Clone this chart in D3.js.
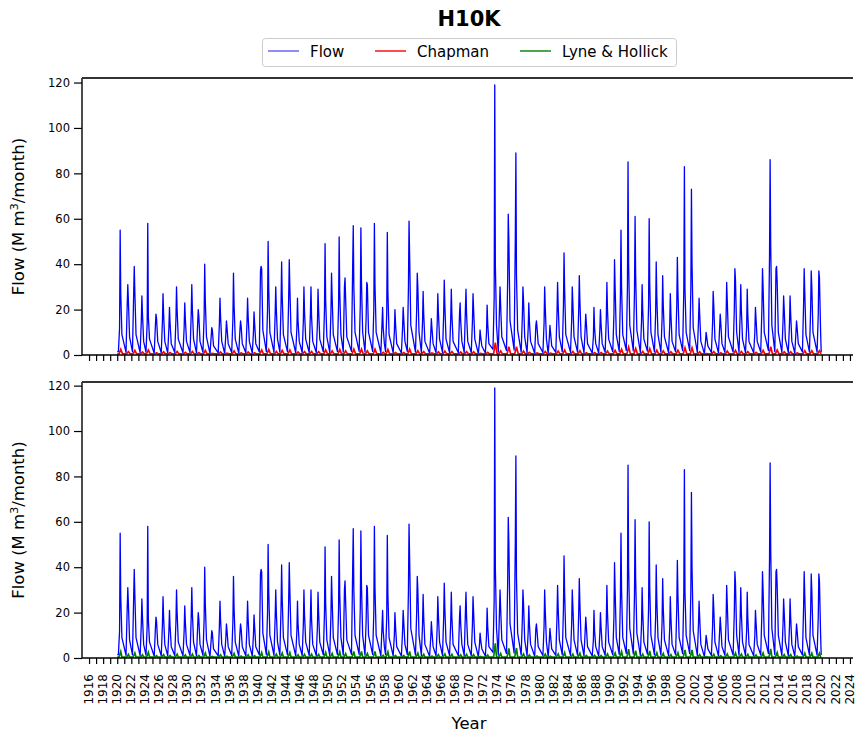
<!DOCTYPE html>
<html>
<head>
<meta charset="utf-8">
<script src="https://cdn.jsdelivr.net/npm/d3@7"></script>
<style>
  body { margin: 0; background: #fff; }
  svg { font-family: "DejaVu Sans", sans-serif; }
</style>
</head>
<body>
<svg id="chart"></svg>
<script>
var width = 855,
    height = 737;

// one entry per year
var years = d3.range(1920, 2020);

var peakMonth = [5, 6, 5, 6, 4, 6, 6, 5, 5, 7,
                 7, 6, 5, 5, 7, 6, 6, 6, 6, 5,
                 5, 5, 6, 4, 5, 7, 6, 6, 6, 6,
                 5, 6, 4, 6, 7, 5, 6, 8, 4, 5,
                 7, 5, 7, 5, 7, 6, 5, 5, 8, 6,
                 6, 6, 6, 7, 4, 6, 7, 7, 5, 6,
                 8, 5, 6, 5, 7, 7, 6, 8, 7, 6,
                 7, 6, 6, 6, 6, 6, 6, 5, 6, 6,
                 6, 6, 7, 7, 7, 7, 6, 8, 6, 5,
                 7, 7, 8, 7, 7, 6, 5, 6, 6, 7];

var peakFlow = [55, 31, 39, 26, 58, 18, 27, 21, 30, 23,
                31, 20, 40, 12, 25, 15, 36, 15, 25, 19,
                39, 50, 30, 41, 42, 25, 30, 30, 29, 49,
                36, 52, 34, 57, 56, 32, 58, 21, 54, 20,
                21, 59, 36, 28, 16, 27, 33, 29, 23, 29,
                27, 11, 22, 119, 30, 62, 89, 30, 23, 15,
                30, 13, 32, 45, 30, 35, 18, 21, 20, 32,
                42, 55, 85, 61, 31, 60, 41, 35, 27, 43,
                83, 73, 25, 10, 28, 18, 32, 38, 31, 29,
                21, 38, 86, 39, 26, 26, 15, 38, 37, 37];

var riseFlow = [12, 22, 27, 15, 14, 13, 15, 12, 16, 12,
                18, 14, 17, 8, 14, 9, 16, 11, 14, 10,
                37, 20, 18, 22, 25, 12, 15, 18, 14, 20,
                19, 22, 30, 39, 22, 17, 20, 14, 18, 10,
                12, 30, 20, 15, 9, 14, 18, 16, 18, 20,
                15, 6, 10, 25, 20, 33, 51, 17, 12, 13,
                14, 8, 18, 22, 15, 20, 12, 8, 11, 16,
                18, 26, 30, 28, 15, 22, 18, 16, 13, 22,
                29, 30, 15, 6, 14, 12, 16, 20, 18, 12,
                10, 20, 44, 38, 15, 14, 10, 22, 20, 18];

var shoulderFlow = [27, 24, 28, 18, 17, 16, 18, 14, 20, 16,
                    20, 17, 24, 11, 17, 12, 22, 13, 17, 14,
                    38, 30, 20, 26, 30, 15, 19, 17, 20, 24,
                    26, 28, 25, 30, 32, 31, 31, 12, 28, 14,
                    16, 44, 30, 18, 12, 19, 22, 18, 15, 18,
                    20, 8, 14, 40, 22, 51, 35, 24, 15, 12,
                    21, 10, 22, 29, 23, 24, 14, 12, 14, 20,
                    30, 30, 40, 35, 20, 31, 26, 22, 18, 28,
                    29, 40, 18, 8, 22, 14, 24, 33, 20, 18,
                    16, 30, 48, 32, 20, 18, 12, 28, 30, 34];

var recessFlow = [9, 8, 9, 6, 7, 6, 6, 5, 7, 6,
                  7, 6, 8, 4, 6, 5, 7, 5, 6, 5,
                  11, 10, 7, 9, 10, 6, 7, 6, 7, 8,
                  9, 9, 8, 10, 10, 10, 10, 5, 9, 5,
                  6, 13, 10, 6, 5, 7, 7, 6, 6, 6,
                  7, 4, 5, 13, 8, 15, 11, 8, 6, 5,
                  7, 4, 8, 9, 8, 8, 5, 5, 5, 7,
                  9, 9, 13, 11, 7, 10, 9, 8, 6, 9,
                  10, 12, 6, 4, 7, 5, 8, 10, 7, 6,
                  6, 10, 13, 10, 7, 6, 5, 9, 10, 10];

var lowFlow = [1.5, 1.2, 1.4, 1.0, 1.3, 0.8, 1.0, 0.9, 1.1, 1.0,
               1.1, 0.9, 1.2, 0.6, 0.9, 0.7, 1.1, 0.8, 1.0, 0.8,
               1.3, 1.5, 1.2, 1.3, 1.4, 1.0, 1.1, 1.1, 1.1, 1.4,
               1.2, 1.5, 1.3, 1.6, 1.6, 1.3, 1.6, 1.0, 1.5, 0.9,
               0.9, 1.6, 1.3, 1.1, 0.8, 1.0, 1.2, 1.1, 1.0, 1.1,
               1.1, 0.6, 0.9, 2.5, 1.3, 2.0, 2.2, 1.3, 1.0, 0.8,
               1.1, 0.7, 1.2, 1.4, 1.2, 1.3, 0.9, 0.9, 0.9, 1.2,
               1.4, 1.6, 2.0, 1.8, 1.2, 1.7, 1.4, 1.3, 1.1, 1.4,
               1.9, 1.9, 1.1, 0.6, 1.1, 0.9, 1.2, 1.3, 1.2, 1.1,
               1.0, 1.3, 2.0, 1.5, 1.1, 1.1, 0.8, 1.3, 1.3, 1.3];

var chapmanPeak = [2.5, 1.5, 2.0, 1.3, 2.2, 1.0, 1.4, 1.1, 1.6, 1.2,
                   1.6, 1.1, 2.0, 0.7, 1.3, 0.8, 1.8, 0.9, 1.3, 1.0,
                   2.2, 2.4, 1.6, 2.0, 2.2, 1.3, 1.5, 1.6, 1.5, 2.3,
                   1.8, 2.4, 1.8, 2.6, 2.6, 1.8, 2.6, 1.2, 2.4, 1.1,
                   1.1, 2.6, 1.9, 1.5, 0.9, 1.4, 1.7, 1.5, 1.3, 1.5,
                   1.4, 0.7, 1.2, 5.5, 1.8, 3.6, 3.6, 1.7, 1.2, 0.9,
                   1.6, 0.8, 1.7, 2.2, 1.6, 1.9, 1.0, 1.1, 1.1, 1.7,
                   2.0, 2.5, 3.5, 2.9, 1.6, 2.8, 2.1, 1.8, 1.4, 2.1,
                   3.2, 3.2, 1.4, 0.6, 1.5, 1.0, 1.7, 2.0, 1.6, 1.5,
                   1.2, 2.0, 3.6, 2.2, 1.4, 1.4, 0.9, 1.9, 1.9, 1.9];

var lyneHollickPeak = [2.8, 1.6, 2.2, 1.4, 2.5, 1.0, 1.5, 1.1, 1.7, 1.3,
                       1.7, 1.1, 2.2, 0.7, 1.4, 0.8, 2.0, 0.9, 1.4, 1.0,
                       2.4, 2.7, 1.7, 2.2, 2.4, 1.4, 1.6, 1.7, 1.6, 2.5,
                       2.0, 2.7, 1.9, 2.9, 2.9, 2.0, 2.9, 1.2, 2.7, 1.1,
                       1.1, 2.9, 2.1, 1.6, 0.9, 1.5, 1.8, 1.6, 1.4, 1.6,
                       1.5, 0.7, 1.3, 6.5, 2.0, 4.2, 4.4, 1.8, 1.3, 0.9,
                       1.7, 0.8, 1.8, 2.4, 1.7, 2.1, 1.1, 1.2, 1.1, 1.8,
                       2.2, 2.8, 3.9, 3.2, 1.7, 3.1, 2.3, 2.0, 1.5, 2.3,
                       3.6, 3.6, 1.5, 0.6, 1.6, 1.0, 1.8, 2.2, 1.7, 1.6,
                       1.3, 2.2, 4.0, 2.4, 1.5, 1.5, 0.9, 2.1, 2.1, 2.1];

var chapmanTrough = 0.5,
    lyneHollickTrough = 0.4;

var yTicks = [0, 20, 40, 60, 80, 100, 120],
    xTicks = d3.range(1916, 2025);

var legendItems = [{name: "Flow", color: "blue"},
                   {name: "Chapman", color: "red"},
                   {name: "Lyne & Hollick", color: "green"}];

var svg = d3.select("#chart")
    .attr("width", width)
    .attr("height", height);

var x = d3.scaleLinear().domain([1915.0, 2024.43]).range([82, 853]);

var panels = [{top: 78, bottom: 355, yMax: 122.0, base: "chapman", labels: false},
              {top: 382, bottom: 658, yMax: 121.6, base: "lyne", labels: true}];

var getPath = d3.line()
    .x(d => x(d[0]))
    .y(d => d[1]);

// month-by-month points that were read, one year at a time
function flowPoints() {
    var pts = [[years[0], lowFlow[0]]];
    years.forEach(function(yr, i) {
        var p = peakMonth[i];
        pts.push([yr + (p - 3) / 12, lowFlow[i]]);
        pts.push([yr + (p - 1) / 12, riseFlow[i]]);
        pts.push([yr + p / 12, peakFlow[i]]);
        pts.push([yr + (p + 1) / 12, shoulderFlow[i]]);
        pts.push([yr + (p + 3) / 12, recessFlow[i]]);
    });
    pts.push([years[years.length - 1] + 11 / 12, lowFlow[years.length - 1]]);
    return pts;
}

function basePoints(peaks, trough, lag, fall) {
    var pts = [[years[0], trough]];
    years.forEach(function(yr, i) {
        var p = peakMonth[i];
        pts.push([yr + (p - 2) / 12, trough]);
        pts.push([yr + (p + lag) / 12, peaks[i]]);
        pts.push([yr + (p + lag + fall) / 12, trough]);
    });
    pts.push([years[years.length - 1] + 11 / 12, trough]);
    return pts;
}

var flowData = flowPoints(),
    chapData = basePoints(chapmanPeak, chapmanTrough, 1, 3),
    lyneData = basePoints(lyneHollickPeak, lyneHollickTrough, 1, 2);

panels.forEach(function(pn) {
    var y = d3.scaleLinear().domain([0, pn.yMax]).range([pn.bottom, pn.top]);
    var g = svg.append("g");

    g.append("path")
        .attr("fill", "none")
        .attr("stroke", "blue")
        .attr("stroke-width", 1.3)
        .attr("stroke-linejoin", "round")
        .attr("d", getPath(flowData.map(d => [d[0], y(d[1])])));

    g.append("path")
        .attr("fill", "none")
        .attr("stroke", pn.base === "chapman" ? "red" : "green")
        .attr("stroke-width", 1.7)
        .attr("d", getPath((pn.base === "chapman" ? chapData : lyneData).map(d => [d[0], y(d[1])])));

    // y axis
    var ya = g.append("g")
        .attr("transform", "translate(82,0)")
        .call(d3.axisLeft(y).tickValues(yTicks).tickSize(8).tickPadding(4));
    ya.select(".domain").remove();
    ya.selectAll("line").attr("stroke", "#000").attr("stroke-width", 1.2);
    ya.selectAll("text").attr("font-size", "11.5px").attr("fill", "#000")
        .attr("font-family", "DejaVu Sans");

    // x axis
    var xa = g.append("g")
        .attr("transform", "translate(0," + pn.bottom + ")")
        .call(d3.axisBottom(x).tickValues(xTicks).tickSize(6)
            .tickFormat(d => (pn.labels && d % 2 === 0) ? d : ""));
    xa.select(".domain").remove();
    xa.selectAll("line").attr("stroke", "#000").attr("stroke-width", 1.2);
    xa.selectAll("text")
        .attr("font-size", "12px")
        .attr("font-family", "DejaVu Sans")
        .attr("fill", "#000")
        .attr("transform", "rotate(-90)")
        .attr("text-anchor", "end")
        .attr("x", -16)
        .attr("y", -1)
        .attr("dy", "0.35em");

    // spines: left, bottom, top
    g.append("line")
        .attr("stroke", "#000").attr("stroke-width", 1.4)
        .attr("x1", 82).attr("y1", pn.top).attr("x2", 82).attr("y2", pn.bottom);
    g.append("line")
        .attr("stroke", "#000").attr("stroke-width", 1.4)
        .attr("x1", 82).attr("y1", pn.bottom).attr("x2", 853).attr("y2", pn.bottom);
    g.append("line")
        .attr("stroke", "#333").attr("stroke-width", 2)
        .attr("x1", 82).attr("y1", pn.top).attr("x2", 853).attr("y2", pn.top);

    g.append("text")
        .attr("transform", "translate(24," + ((pn.top + pn.bottom) / 2) + ") rotate(-90)")
        .attr("text-anchor", "middle")
        .attr("font-size", "16.5px")
        .html("Flow (M m<tspan baseline-shift='super' font-size='11px'>3</tspan>/month)");
});

svg.append("text")
    .attr("x", 469).attr("y", 729)
    .attr("text-anchor", "middle")
    .attr("font-size", "16.5px")
    .text("Year");

svg.append("text")
    .attr("x", 469).attr("y", 26)
    .attr("text-anchor", "middle")
    .attr("font-size", "21px")
    .attr("font-weight", "bold")
    .text("H10K");

// legend
var leg = svg.append("g");
leg.append("rect")
    .attr("x", 262.5).attr("y", 38.5).attr("width", 414).attr("height", 28)
    .attr("rx", 3).attr("fill", "#fff").attr("stroke", "#ccc");

var legX = [268, 375, 520];
legendItems.forEach(function(it, i) {
    leg.append("line")
        .attr("x1", legX[i]).attr("x2", legX[i] + 31)
        .attr("y1", 51).attr("y2", 51)
        .attr("stroke", it.color)
        .attr("stroke-width", it.name === "Flow" ? 0.9 : 1.4);
    leg.append("text")
        .attr("x", legX[i] + 42).attr("y", 56.5)
        .attr("font-size", "15px")
        .text(it.name);
});
</script>
</body>
</html>
